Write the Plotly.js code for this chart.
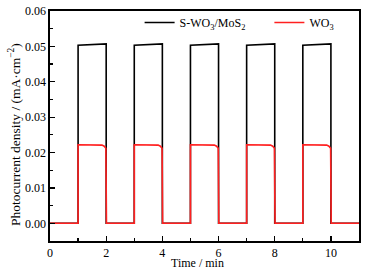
<!DOCTYPE html>
<html>
<head>
<meta charset="utf-8">
<script src="https://cdn.plot.ly/plotly-3.0.1.min.js"></script>
<style>html,body{margin:0;padding:0;background:#fff;}#chart{width:367px;height:270px;}</style>
</head>
<body>
<div id="chart"></div>
<script>
// S-WO3/MoS2 (black) chopped-light photocurrent
const timeComposite = [0, 1, 1, 2, 2, 3, 3, 4, 4, 5, 5, 6, 6, 7, 7, 8, 8, 9, 9, 10, 10, 11];
const currentComposite = [0, 0, 0.0503, 0.0507, 0, 0, 0.0503, 0.0507, 0, 0, 0.0503, 0.0507, 0, 0, 0.0503, 0.0507, 0, 0, 0.0503, 0.0507, 0, 0];

// WO3 (red)
const timeWO3 = [0, 1, 1, 1.5, 1.85, 1.93, 1.99, 2.01,
  3, 3, 3.5, 3.85, 3.93, 3.99, 4.01,
  5, 5, 5.5, 5.85, 5.93, 5.99, 6.01,
  7, 7, 7.5, 7.85, 7.93, 7.99, 8.01,
  9, 9, 9.5, 9.85, 9.93, 9.99, 10.01, 11];
const currentWO3 = [0, 0, 0.0222, 0.0222, 0.0221, 0.0218, 0.0212, 0,
  0, 0.0222, 0.0222, 0.0221, 0.0218, 0.0212, 0,
  0, 0.0222, 0.0222, 0.0221, 0.0218, 0.0212, 0,
  0, 0.0222, 0.0222, 0.0221, 0.0218, 0.0212, 0,
  0, 0.0222, 0.0222, 0.0221, 0.0218, 0.0212, 0, 0];

const seriesNames = ['S-WO<sub>3</sub>/MoS<sub>2</sub>', 'WO<sub>3</sub>'];
const xTitle = 'Time / min';
const yTitle = 'Photocurrent density / (mA·cm<sup>−2</sup>)';

const font = 'Liberation Serif, Times New Roman, serif';

const traces = [
  {x: timeComposite, y: currentComposite, name: seriesNames[0], mode: 'lines',
   line: {color: '#000000', width: 1.6}, legend: 'legend'},
  {x: timeWO3, y: currentWO3, name: seriesNames[1], mode: 'lines',
   line: {color: '#ff2020', width: 1.6}, legend: 'legend2'}
];

const axisCommon = {
  showline: true, linecolor: '#000', linewidth: 1.6, mirror: true,
  ticks: 'inside', ticklen: 5, tickwidth: 1.2, tickcolor: '#000',
  showgrid: false, zeroline: false,
  tickfont: {family: font, size: 12, color: '#000'}
};

const legendCommon = {orientation: 'h', yanchor: 'middle', xanchor: 'left',
  bgcolor: 'rgba(0,0,0,0)', font: {family: font, size: 12}, itemwidth: 30};

const layout = {
  width: 367, height: 270,
  margin: {l: 50, r: 8, t: 11, b: 29},
  paper_bgcolor: '#fff', plot_bgcolor: '#fff',
  font: {family: font, size: 12, color: '#000'},
  showlegend: true,
  legend: Object.assign({}, legendCommon, {x: 0.29, y: 0.95}),
  legend2: Object.assign({}, legendCommon, {x: 0.71, y: 0.95}),
  xaxis: Object.assign({}, axisCommon, {
    range: [0, 11], dtick: 2, tick0: 0,
    minor: {dtick: 1, ticks: 'inside', ticklen: 3, tickwidth: 1.2, tickcolor: '#000'}
  }),
  yaxis: Object.assign({}, axisCommon, {
    range: [-0.005, 0.06], dtick: 0.01, tick0: 0, tickformat: '.2f',
    minor: {dtick: 0.005, ticks: 'inside', ticklen: 3, tickwidth: 1.2, tickcolor: '#000'}
  }),
  annotations: [
    {text: xTitle, xref: 'paper', yref: 'paper', x: 0.476, y: -0.094,
     xanchor: 'center', yanchor: 'middle', showarrow: false,
     font: {family: font, size: 12, color: '#000'}},
    {text: yTitle, xref: 'paper', yref: 'paper', x: -0.113, y: 0.461,
     xanchor: 'center', yanchor: 'middle', showarrow: false, textangle: -90,
     font: {family: font, size: 13.5, color: '#000'}}
  ]
};

Plotly.newPlot('chart', traces, layout, {displayModeBar: false, staticPlot: true});
</script>
</body>
</html>
